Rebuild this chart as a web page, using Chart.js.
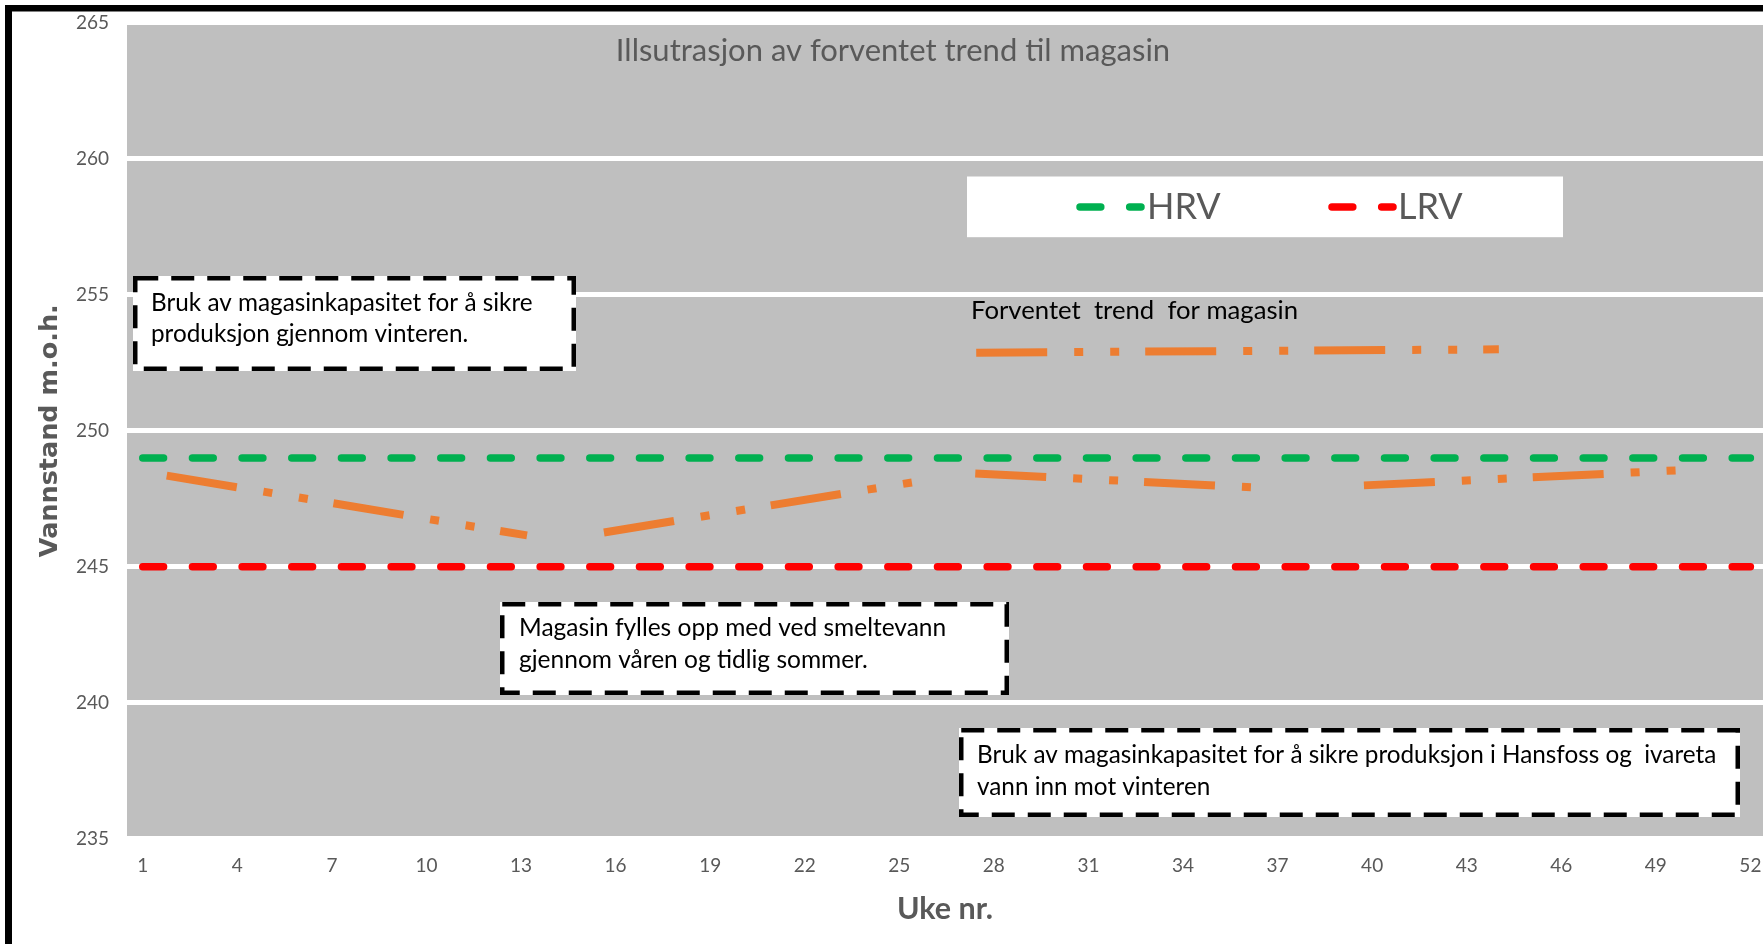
<!DOCTYPE html>
<html>
<head>
<meta charset="utf-8">
<script src="https://cdn.jsdelivr.net/npm/chart.js@4.4.1/dist/chart.umd.min.js"></script>
<style>
html,body{margin:0;padding:0;background:#ffffff;overflow:hidden}
canvas{display:block}
</style>
</head>
<body>
<canvas id="c" width="1763" height="944"></canvas>
<script>
// ---------------- data ----------------
const weeks = [1,2,3,4,5,6,7,8,9,10,11,12,13,14,15,16,17,18,19,20,21,22,23,24,25,26,
               27,28,29,30,31,32,33,34,35,36,37,38,39,40,41,42,43,44,45,46,47,48,49,50,51,52];
const hrvValues = [249,249,249,249,249,249,249,249,249,249,249,249,249,249,249,249,249,249,249,249,249,249,249,249,249,249,
                   249,249,249,249,249,249,249,249,249,249,249,249,249,249,249,249,249,249,249,249,249,249,249,249,249,249];
const lrvValues = [245,245,245,245,245,245,245,245,245,245,245,245,245,245,245,245,245,245,245,245,245,245,245,245,245,245,
                   245,245,245,245,245,245,245,245,245,245,245,245,245,245,245,245,245,245,245,245,245,245,245,245,245,245];
// expected trend (week position, level m.o.h.); null = break in the line
const trendWeeks  = [1.76, 13.19, 14.4, 15.63, 26.1, 26.8, 27.41, 36.5, 38.0, 39.74, 50.0];
const trendValues = [248.35, 246.15, null, 246.26, 248.23, null, 248.43, 247.90, null, 247.99, 248.56];
// sample line shown under the "Forventet trend for magasin" label
const sampleWeeks  = [27.44, 44.02];
const sampleValues = [252.87, 252.99];

const weekTicks = [1,4,7,10,13,16,19,22,25,28,31,34,37,40,43,46,49,52];
const levelTicks = [235,240,245,250,255,260,265];

const chartTitle = 'Illsutrasjon av forventet trend til magasin';
const xTitle = 'Uke nr.';
const yTitle = 'Vannstand m.o.h.';
const trendLabel = 'Forventet  trend  for magasin';
const note1 = ['Bruk av magasinkapasitet for å sikre', 'produksjon gjennom vinteren.'];
const note2 = ['Magasin fylles opp med ved smeltevann', 'gjennom våren og tidlig sommer.'];
const note3 = ['Bruk av magasinkapasitet for å sikre produksjon i Hansfoss og  ivareta', 'vann inn mot vinteren'];

// ---------------- styling ----------------
const FONT = "Lato, 'Open Sans', sans-serif";
const GREY_TXT = '#595959';
const pts = (xs, ys) => xs.map((x, i) => ({x: x, y: ys[i]}));
const levelDash = [20.8, 28.87];
const trendDash = [71, 27, 9, 27, 9, 26];

const bgPlugin = {
  id: 'plotBg',
  beforeDraw(chart) {
    const {ctx, chartArea: a} = chart;
    ctx.save();
    ctx.fillStyle = '#ffffff';
    ctx.fillRect(0, 0, chart.width, chart.height);
    ctx.fillStyle = '#bfbfbf';
    ctx.fillRect(a.left, a.top, a.right - a.left, a.bottom - a.top);
    ctx.restore();
  }
};

function noteBox(ctx, x0, y0, x1, y1, lines, tx, ty, lh, size) {
  ctx.save();
  ctx.fillStyle = '#ffffff';
  ctx.fillRect(x0, y0, x1 - x0, y1 - y0);
  ctx.strokeStyle = '#000000';
  ctx.lineWidth = 4.5;
  ctx.setLineDash([23, 13]);
  ctx.lineCap = 'butt';
  ctx.strokeRect(x0 + 2.25, y0 + 2.25, x1 - x0 - 4.5, y1 - y0 - 4.5);
  ctx.setLineDash([]);
  ctx.fillStyle = '#000000';
  ctx.font = size + 'px ' + FONT;
  ctx.textAlign = 'left';
  ctx.textBaseline = 'middle';
  lines.forEach((t, i) => ctx.fillText(t, tx, ty + i * lh));
  ctx.restore();
}

const overlayPlugin = {
  id: 'overlay',
  afterDraw(chart) {
    const ctx = chart.ctx;
    const ds = chart.data.datasets;
    ctx.save();
    // title inside plot
    ctx.fillStyle = GREY_TXT;
    ctx.font = '31px ' + FONT;
    ctx.textAlign = 'center';
    ctx.textBaseline = 'middle';
    ctx.fillText(chartTitle, 893, 51);

    // legend box
    ctx.fillStyle = '#ffffff';
    ctx.fillRect(967, 176.5, 596, 60.7);
    const legendItem = (d, x0, x1, tx) => {
      ctx.save();
      ctx.strokeStyle = d.borderColor;
      ctx.lineWidth = d.borderWidth;
      ctx.lineCap = 'round';
      ctx.setLineDash(d.borderDash);
      ctx.beginPath();
      ctx.moveTo(x0, 207);
      ctx.lineTo(x1, 207);
      ctx.stroke();
      ctx.restore();
      ctx.fillStyle = GREY_TXT;
      ctx.font = '36px ' + FONT;
      ctx.textAlign = 'left';
      ctx.textBaseline = 'middle';
      ctx.fillText(d.label, tx, 207);
    };
    legendItem(ds[0], 1080, 1141, 1147);
    legendItem(ds[1], 1332, 1393, 1398);

    // trend label
    ctx.fillStyle = '#000000';
    ctx.font = '25.7px ' + FONT;
    ctx.textAlign = 'left';
    ctx.textBaseline = 'middle';
    ctx.fillText(trendLabel, 971, 311);
    ctx.restore();

    noteBox(ctx, 133, 276, 576, 371, note1, 151, 303.5, 30.5, 24.3);
    noteBox(ctx, 500, 602, 1009, 695, note2, 519, 628.5, 31.5, 24.5);
    noteBox(ctx, 959, 728, 1740, 817, note3, 977, 755.5, 31.5, 24.3);

    // outer frame (left and top edges)
    ctx.save();
    ctx.fillStyle = '#000000';
    ctx.fillRect(5, 5, chart.width, 6.5);
    ctx.fillRect(5, 5, 7, chart.height);
    ctx.restore();
  }
};

const noPad = s => { s.paddingLeft = 0; s.paddingRight = 0; s.paddingTop = 0; s.paddingBottom = 0; };

new Chart(document.getElementById('c'), {
  type: 'line',
  data: {
    datasets: [
      {label: 'HRV', data: pts(weeks, hrvValues), borderColor: '#00b050', borderWidth: 7.5,
       borderDash: levelDash, borderCapStyle: 'round', pointRadius: 0, tension: 0, fill: false},
      {label: 'LRV', data: pts(weeks, lrvValues), borderColor: '#ff0000', borderWidth: 7.5,
       borderDash: levelDash, borderCapStyle: 'round', pointRadius: 0, tension: 0, fill: false},
      {label: 'Forventet trend for magasin', data: pts(trendWeeks, trendValues), borderColor: '#ed7d31',
       borderWidth: 8, borderDash: trendDash, borderCapStyle: 'butt', spanGaps: false,
       pointRadius: 0, tension: 0, fill: false},
      {label: 'Forventet trend for magasin (symbol)', data: pts(sampleWeeks, sampleValues), borderColor: '#ed7d31',
       borderWidth: 8, borderDash: trendDash, borderCapStyle: 'butt', pointRadius: 0, tension: 0, fill: false}
    ]
  },
  options: {
    responsive: false,
    animation: false,
    devicePixelRatio: 1,
    layout: {padding: {top: 22.7, right: 0, bottom: 0, left: 0}, autoPadding: false},
    plugins: {legend: {display: false}, tooltip: {enabled: false}, title: {display: false}},
    scales: {
      x: {
        type: 'linear', min: 0.5, max: 52.4,
        grid: {display: false}, border: {display: false},
        afterBuildTicks: s => { s.ticks = weekTicks.map(v => ({value: v})); },
        ticks: {autoSkip: false, maxRotation: 0, color: GREY_TXT, font: {family: FONT, size: 19}, padding: 8,
                callback: v => String(v)},
        title: {display: true, text: xTitle, color: GREY_TXT, font: {family: FONT, size: 30.5, weight: 'bold'},
                padding: {top: 0, bottom: 17}},
        afterFit: s => { s.height = 944 - 838.7; noPad(s); }
      },
      y: {
        min: 235, max: 265,
        afterBuildTicks: s => { s.ticks = levelTicks.map(v => ({value: v})); },
        grid: {color: '#ffffff', lineWidth: 5, drawTicks: false}, border: {display: false},
        ticks: {color: GREY_TXT, font: {family: FONT, size: 19}, padding: 18},
        title: {display: true, text: yTitle, color: GREY_TXT,
                font: {family: "'DejaVu Sans'", size: 25.5, weight: 'bold'}, padding: {top: 35.3, bottom: 0}},
        afterFit: s => { s.width = 127; noPad(s); }
      }
    }
  },
  plugins: [bgPlugin, overlayPlugin]
});
</script>
</body>
</html>
